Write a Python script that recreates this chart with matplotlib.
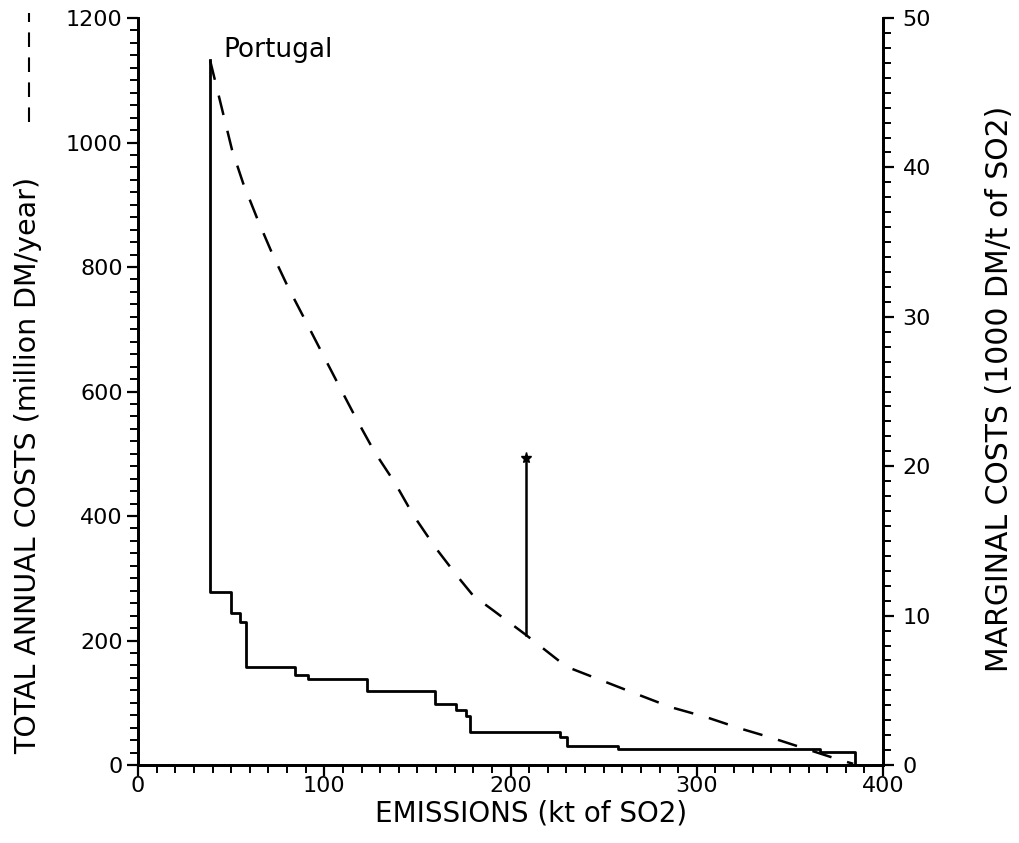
import numpy as np
import matplotlib.pyplot as plt
from matplotlib.ticker import MultipleLocator
from matplotlib.lines import Line2D

# total annual costs (left axis, dashed), million DM/year
tc_x = [38.7, 50.5, 56.4, 64.4, 72.0, 80.5, 89.7, 98.8, 108.5, 117.6, 127.0, 138.0,
        147.7, 159.5, 171.8, 180.0, 190.0, 208.3, 230.0, 248.0, 266.0, 286.0, 305.0,
        323.0, 341.0, 377.0, 384.0]
tc_y = [1132, 988, 935, 875, 822, 768, 715, 662, 606, 554, 503, 453,
        402, 350, 302, 272, 250, 209, 158, 137, 116, 93, 77,
        59, 43, 8, 2]

# marginal costs (right axis, solid step), 1000 DM/t
mc_x = [38.7, 38.7, 49.8, 54.8, 58.0, 84.3, 91.3, 123.0, 159.5, 170.5, 176.0, 178.5,
        226.6, 230.3, 257.7, 366.0, 385.0]
mc_y = [47.2, 11.6, 10.2, 9.6, 6.55, 6.0, 5.75, 4.95, 4.1, 3.7, 3.3, 2.2,
        1.87, 1.27, 1.07, 0.87, 0.0]

# vertical marker line with star
mark_x = 208.3
mark_y = [209, 493]

plt.rcParams['font.family'] = 'DejaVu Sans'

fig = plt.figure(figsize=(10.2, 8.43), dpi=100)
ax = fig.add_axes([0.1353, 0.0925, 0.7304, 0.8861])
ax2 = ax.twinx()

ax.plot(tc_x, tc_y, color='black', lw=1.8, dashes=(8, 6.5))
ax.plot([mark_x, mark_x], mark_y, color='black', lw=1.8)
ax.plot([mark_x], [mark_y[1]], marker='*', color='black', ms=8)
ax2.plot(mc_x, mc_y, color='black', lw=2.0, drawstyle='steps-post')

ax.text(46, 1128, 'Portugal', fontsize=19, ha='left', va='bottom')

ax.set_xlim(0, 400)
ax.set_ylim(0, 1200)
ax2.set_ylim(0, 50)

ax.xaxis.set_major_locator(MultipleLocator(100))
ax.xaxis.set_minor_locator(MultipleLocator(10))
ax.yaxis.set_major_locator(MultipleLocator(200))
ax.yaxis.set_minor_locator(MultipleLocator(20))
ax2.yaxis.set_major_locator(MultipleLocator(10))
ax2.yaxis.set_minor_locator(MultipleLocator(1))

for a in (ax, ax2):
    a.spines['top'].set_visible(False)
    for s in a.spines.values():
        s.set_linewidth(2)
    a.tick_params(which='major', direction='out', length=8, width=1.6, labelsize=16, pad=0)
    a.tick_params(which='minor', direction='out', length=6, width=1.4)
ax.tick_params(axis='y', which='major', pad=3)
ax2.tick_params(axis='y', which='major', pad=6)

fig.text(0.521, 0.035, 'EMISSIONS (kt of SO2)', ha='center', va='center', fontsize=20)
fig.text(0.028, 0.448, 'TOTAL ANNUAL COSTS (million DM/year)', ha='center', va='center',
         rotation=90, fontsize=20.5)
fig.add_artist(Line2D([0.028, 0.028], [0.855, 0.985], transform=fig.transFigure,
                      color='black', lw=1.5, dashes=(7, 5)))
fig.text(0.980, 0.539, 'MARGINAL COSTS (1000 DM/t of SO2)', ha='center', va='center',
         rotation=90, fontsize=21.5)

fig.savefig('out.png', dpi=100)
